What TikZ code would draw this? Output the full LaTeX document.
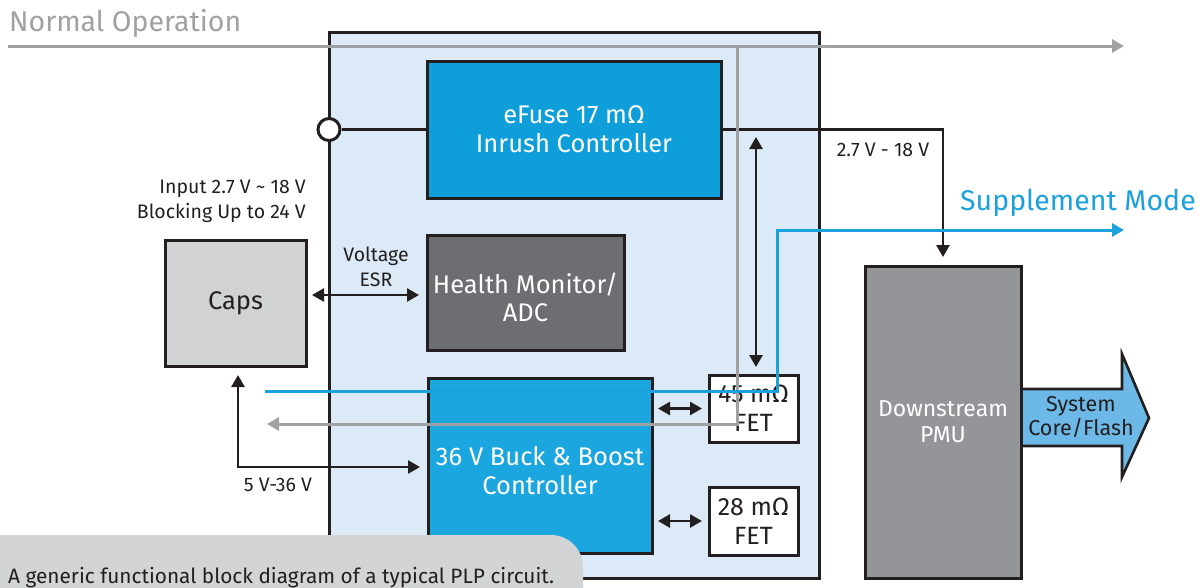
\documentclass[tikz,border=0pt]{standalone}
\usepackage{fontspec}
\setmainfont{Fira Sans}
\usetikzlibrary{arrows.meta}
\definecolor{bgblue}{HTML}{DCEAF7}
\definecolor{efuseblue}{HTML}{0E9FDB}
\definecolor{buckblue}{HTML}{1CA6DF}
\definecolor{healthgrey}{HTML}{6D6E71}
\definecolor{pmugrey}{HTML}{939598}
\definecolor{capsgrey}{HTML}{D1D2D4}
\definecolor{linegrey}{HTML}{A0A1A3}
\definecolor{suppblue}{HTML}{1BA1DB}
\definecolor{arrowblue}{HTML}{6CB8E6}
\definecolor{capgrey}{HTML}{D3D4D6}
\definecolor{textdark}{HTML}{231F20}
\newcommand{\fsz}[2]{\fontsize{#1pt}{#2pt}\selectfont}
\newcommand{\lowerby}{\rule{0pt}{30pt}}
\tikzset{
  blk/.style={draw=textdark, line width=3pt, inner sep=0pt, outer sep=0pt, align=center, anchor=north west},
  conn/.style={draw=textdark, line width=2.6pt, line cap=butt},
  tip/.style={-{Triangle[length=12pt,width=13pt]}},
  dtip/.style={{Triangle[length=12pt,width=13pt]}-{Triangle[length=12pt,width=13pt]}},
  greyline/.style={draw=linegrey, line width=3pt},
  blueline/.style={draw=suppblue, line width=3pt},
  lbl/.style={text=textdark, inner sep=0pt, align=center, font=\fsz{19.5}{25}},
}
\begin{document}
\begin{tikzpicture}[x=1pt,y=-1pt]
\useasboundingbox (0,0) rectangle (1199,587);
% main box
\node[blk, fill=bgblue, minimum width=490pt, minimum height=546pt] (main) at (329,32) {};
% blocks
\node[blk, fill=efuseblue, text=white, minimum width=294pt, minimum height=137pt, font=\fsz{25.5}{29}] (efuse) at (427,61) {eFuse 17 mΩ\\Inrush Controller};
\node[blk, fill=healthgrey, text=white, minimum width=197pt, minimum height=115pt, font=\fsz{25.5}{28}] (health) at (427,235) {\lowerby Health Monitor/\\ADC};
\node[blk, fill=buckblue, text=white, minimum width=224pt, minimum height=175pt, font=\fsz{25.5}{29}] (buck) at (428,378) {\lowerby 36 V Buck \& Boost\\Controller};
\node[blk, fill=white, text=textdark, minimum width=89pt, minimum height=67pt, font=\fsz{25}{29}] (fetA) at (709,375) {45 mΩ\\FET};
\node[blk, fill=white, text=textdark, minimum width=89pt, minimum height=68pt, font=\fsz{25}{29}] (fetB) at (709,487) {28 mΩ\\FET};
\node[blk, fill=capsgrey, text=textdark, minimum width=141pt, minimum height=126pt, font=\fsz{25.5}{28}] (caps) at (165,240) {Caps};
\node[blk, fill=pmugrey, text=white, minimum width=156pt, minimum height=312pt, font=\fsz{23}{26}] (pmu) at (865,266) {Downstream\\PMU};
% circle input
\node[circle, draw=textdark, fill=white, line width=3pt, minimum size=22pt, inner sep=0pt] (cin) at (329,129.5) {};
% big output arrow
\draw[fill=arrowblue, draw=textdark, line width=2.6pt, line join=miter] (1021,389) -- (1122,389) -- (1122,354) -- (1149,418) -- (1122,477) -- (1122,446) -- (1021,446);
\draw[draw=textdark, line width=3pt] (pmu.north east) -- (pmu.south east);
\node[text=textdark, align=center, font=\fsz{21.5}{24}] (sys) at (1081,417) {System\\Core/Flash};
% labels
\node[text=linegrey, anchor=west, inner sep=0pt, font=\fsz{28.5}{30}] (normal) at (9,23) {Normal Operation};
\node[text=suppblue, anchor=east, inner sep=0pt, font=\fsz{28.5}{30}] (supp) at (1196,203) {Supplement Mode};
\node[lbl, align=right, anchor=east] (inp) at (306,201) {Input 2.7 V \textasciitilde{} 18 V\\Blocking Up to 24 V};
\node[lbl] (vesr) at (376,267) {Voltage\\ESR};
\node[lbl] (v218) at (883,150) {2.7 V - 18 V};
\node[lbl] (v536) at (278,485) {5 V-36 V};
% coordinates
\coordinate (gdrop) at (737,46);
\coordinate (gend) at (267,424);
\coordinate (nstart) at (8,46);
\coordinate (nend) at (1124,46);
\coordinate (bstart) at (265,391);
\coordinate (bturn) at (777,230);
\coordinate (bend) at (1124,230);
\coordinate (vtop) at (756,137);
\coordinate (vbot) at (756,367);
\coordinate (ctip) at (238,375);
\coordinate (btip) at (420,467);
% black connectors
\draw[conn] (cin) -- (efuse.west);
\draw[conn, tip, shorten >=9pt] (efuse.east) -| (pmu.north);
\draw[conn, dtip] (vtop) -- (vbot);
\draw[conn, dtip, shorten <=6pt, shorten >=7pt] (buck.east |- fetA.west) -- (fetA.west);
\draw[conn, dtip, shorten <=6pt, shorten >=7pt] (buck.east |- fetB.west) -- (fetB.west);
\draw[conn, dtip, shorten <=6pt, shorten >=8pt] (caps.east |- 0,295) -- (health.west |- 0,295);
\draw[conn, dtip] (ctip) |- (btip);
% grey normal operation path
\draw[greyline, tip] (nstart) -- (nend);
\draw[greyline, tip] (gdrop) |- (gend);
% blue supplement path
\draw[blueline, tip] (bstart) -| (bturn) -- (bend);
% caption
\fill[capgrey, rounded corners=32pt] (-60,535) rectangle (583,660);
\node[text=textdark, anchor=base west, inner sep=0pt, font=\fsz{20.8}{22}] (cap) at (8,583) {A generic functional block diagram of a typical PLP circuit.};
\end{tikzpicture}
\end{document}
